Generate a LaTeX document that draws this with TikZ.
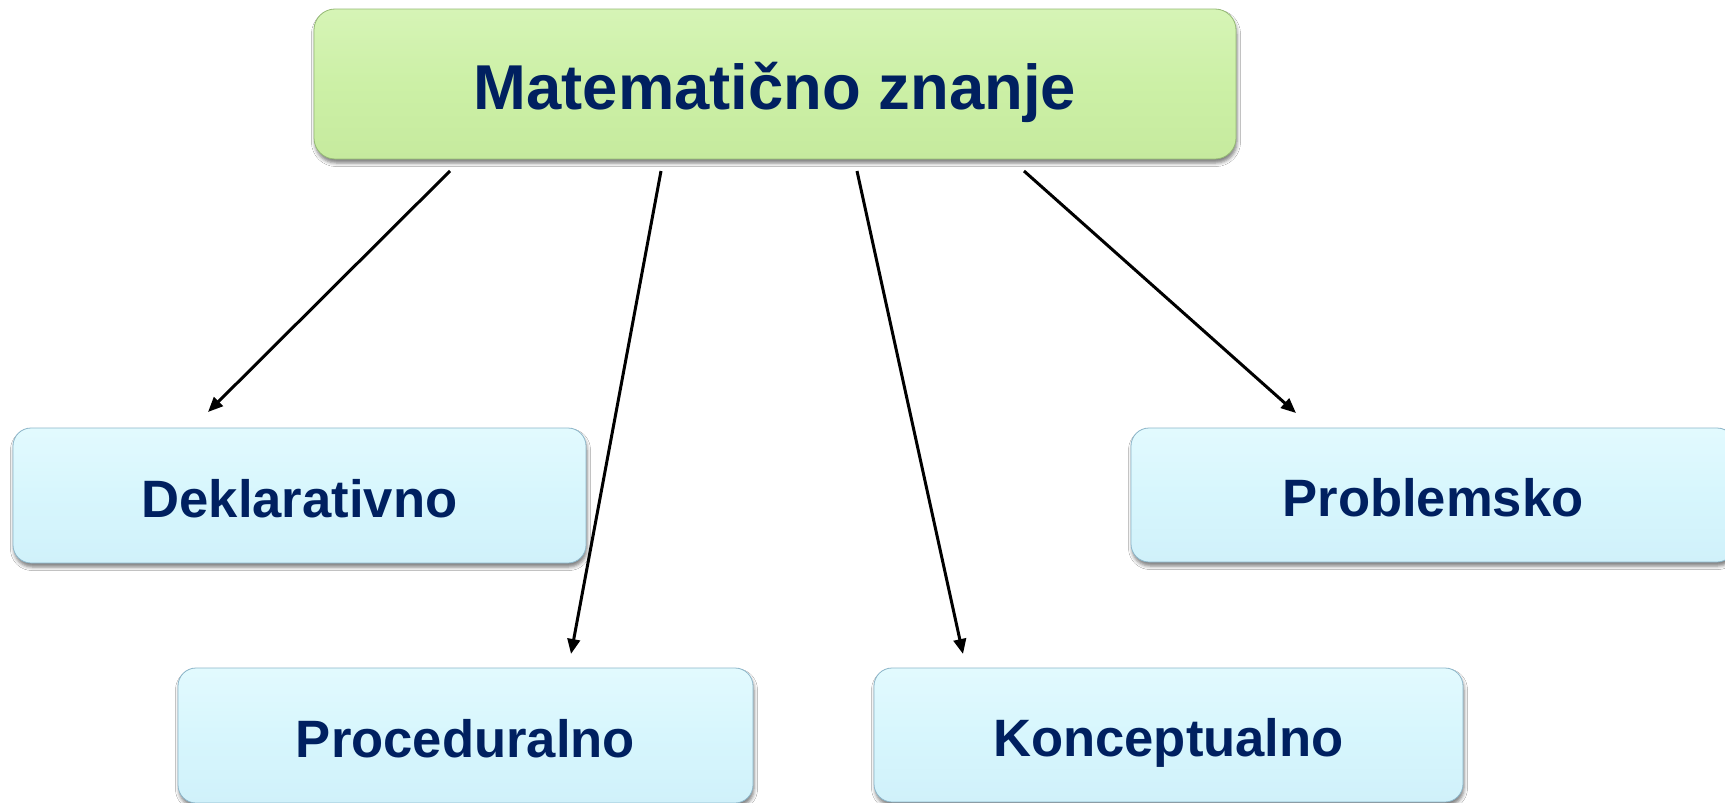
\documentclass[tikz,border=0pt]{standalone}
\usepackage{fontspec}
\setmainfont{Liberation Sans}
\usetikzlibrary{arrows.meta,shadows.blur}
\definecolor{navytext}{RGB}{0,32,96}
\definecolor{greenTop}{RGB}{214,244,182}
\definecolor{greenMid}{RGB}{204,240,166}
\definecolor{greenBot}{RGB}{198,234,158}
\definecolor{greenEdge}{RGB}{150,186,118}
\definecolor{cyanTop}{RGB}{226,250,254}
\definecolor{cyanMid}{RGB}{215,246,253}
\definecolor{cyanBot}{RGB}{208,241,250}
\definecolor{cyanEdge}{RGB}{140,182,202}
\begin{document}
\begin{tikzpicture}[x=1pt,y=-1pt,
  boxbase/.style={rectangle, inner sep=0pt, text=navytext, text depth=0pt,
    blur shadow={shadow xshift=1pt, shadow yshift=-4pt, shadow blur radius=3.5pt, shadow opacity=50}},
  rootbox/.style={boxbase, rounded corners=21pt, top color=greenTop, bottom color=greenBot,
    middle color=greenMid, draw=greenEdge, line width=0.8pt,
    font=\bfseries\fontsize{63.4}{70}\selectfont, text height=50.4pt},
  leafbox/.style={boxbase, rounded corners=18pt, top color=cyanTop, bottom color=cyanBot,
    middle color=cyanMid, draw=cyanEdge, line width=0.8pt,
    font=\bfseries\fontsize{52.6}{60}\selectfont, text height=43pt},
  conn/.style={line width=3pt, draw=black, -{Triangle[length=15pt,width=12.5pt]}}
]
\useasboundingbox (0,0) rectangle (1725,803);
\clip (0,0) rectangle (1725,803);
\fill[white] (0,0) rectangle (1725,803);

\node[rootbox, minimum width=922pt, minimum height=150pt] (root) at (775,84) {Matematično znanje};
\node[leafbox, minimum width=573pt, minimum height=135pt] (dek) at (299.5,495.5) {Deklarativno};
\node[leafbox, minimum width=604pt, minimum height=134pt] (prob) at (1433,495) {Problemsko};
\node[leafbox, minimum width=575pt, minimum height=135pt] (proc) at (465.5,735.5) {Proceduralno};
\node[leafbox, minimum width=589pt, minimum height=134pt] (konc) at (1168.5,735) {Konceptualno};

\coordinate (a1s) at (450,171);
\coordinate (a1e) at (208,412);
\coordinate (a2s) at (661,171);
\coordinate (a2e) at (571,654);
\coordinate (a3s) at (857,171);
\coordinate (a3e) at (963,654);
\coordinate (a4s) at (1024,171);
\coordinate (a4e) at (1296,413);

\draw[conn] (a1s) -- (a1e);
\draw[conn] (a2s) -- (a2e);
\draw[conn] (a3s) -- (a3e);
\draw[conn] (a4s) -- (a4e);
\end{tikzpicture}
\end{document}
